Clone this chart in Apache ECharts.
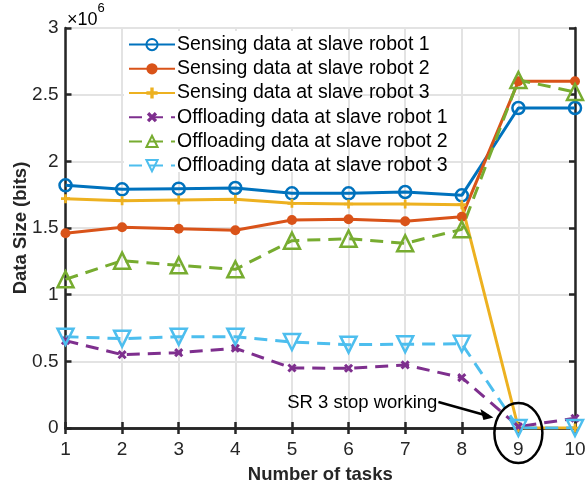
<!DOCTYPE html>
<html><head><meta charset="utf-8">
<script src="https://cdn.jsdelivr.net/npm/echarts@6/dist/echarts.min.js"></script>
<style>html,body{margin:0;padding:0;background:#fff}#c{width:586px;height:489px}</style>
</head><body><div id="c"></div>
<script>
// values in units of 10^6 bits
const tasks = [1,2,3,4,5,6,7,8,9,10];
const sensing1 = [1.82,1.79,1.795,1.80,1.76,1.76,1.77,1.745,2.40,2.40];
const sensing2 = [1.46,1.505,1.495,1.483,1.56,1.565,1.55,1.585,2.60,2.60];
const sensing3 = [1.72,1.705,1.71,1.715,1.685,1.68,1.68,1.675,0,0];
const offload1 = [0.655,0.55,0.565,0.598,0.45,0.448,0.473,0.378,0.01,0.073];
const offload2 = [1.115,1.255,1.22,1.19,1.405,1.42,1.385,1.49,2.61,2.52];
const offload3 = [0.685,0.67,0.685,0.685,0.645,0.625,0.628,0.632,0,0];
const seriesNames = ['Sensing data at slave robot 1','Sensing data at slave robot 2','Sensing data at slave robot 3',
  'Offloading data at slave robot 1','Offloading data at slave robot 2','Offloading data at slave robot 3'];
const yTicks = [0,0.5,1,1.5,2,2.5,3];
const xLabel = 'Number of tasks';
const yLabel = 'Data Size (bits)';
const annotationText = 'SR 3 stop working';

const FONT = 'Liberation Sans, Arial, sans-serif';
const AX = '#262626';
const GRID = '#e3e3e3';
const plus = 'path://M3.5,0 H6.5 V3.5 H10 V6.5 H6.5 V10 H3.5 V6.5 H0 V3.5 H3.5 Z';

function pts(arr){ return tasks.map((t,i)=>[t,arr[i]]); }
function mk(name, data, color, dash, symbol, size, filled, rotate){
  return {
    name, type:'line', data:pts(data), symbol, symbolSize:size, symbolRotate:rotate||0,
    lineStyle:{color, width:3, type:dash?[13,8]:'solid'},
    itemStyle: filled ? {color} : {color:'rgba(255,255,255,0)', borderColor:color, borderWidth:2.5},
    emphasis:{disabled:true}, animation:false, z:3
  };
}
const series = [
  mk(seriesNames[0], sensing1, '#0072BD', false, 'circle', 12, false),
  mk(seriesNames[1], sensing2, '#D95319', false, 'circle', 10, true),
  mk(seriesNames[2], sensing3, '#EDB120', false, plus, 9, true),
  mk(seriesNames[3], offload1, '#7E2F8E', true, plus, 10, true, 45),
  mk(seriesNames[4], offload2, '#77AC30', true, 'triangle', 16, false),
  mk(seriesNames[5], offload3, '#4DBEEE', true, 'triangle', 16, false, 180)
];

const chart = echarts.init(document.getElementById('c'), null, {renderer:'canvas'});
const axBase = {
  type:'value', min:1, max:10, interval:1,
  axisLine:{show:true, lineStyle:{color:AX, width:2.5}},
  axisTick:{show:true, inside:true, length:6, lineStyle:{color:AX, width:2.5}},
};
chart.setOption({
  animation:false,
  grid:{left:65.5, right:11, top:28, bottom:61, containLabel:false, outerBoundsMode:'none'},
  xAxis:[
    Object.assign({}, axBase, {position:'bottom', name:xLabel, nameLocation:'middle', nameGap:37, nameMoveOverlap:false,
      nameTextStyle:{fontFamily:FONT, fontWeight:'bold', fontSize:18.5, color:AX},
      axisLabel:{fontFamily:FONT, fontSize:19, color:AX, margin:12},
      splitLine:{show:true, lineStyle:{color:GRID, width:2}}}),
    Object.assign({}, axBase, {position:'top', axisLabel:{show:false}, splitLine:{show:false}})
  ],
  yAxis:[
    {type:'value', min:0, max:3, interval:0.5, position:'left',
      name:yLabel, nameLocation:'middle', nameGap:35, nameMoveOverlap:false,
      nameTextStyle:{fontFamily:FONT, fontWeight:'bold', fontSize:18.5, color:AX},
      axisLine:{show:true, lineStyle:{color:AX, width:2.5}},
      axisTick:{show:true, inside:true, length:6, lineStyle:{color:AX, width:2.5}},
      axisLabel:{fontFamily:FONT, fontSize:19, color:AX, margin:7,
        formatter:v=>{const t=yTicks.find(x=>Math.abs(x-v)<1e-9); return t===undefined?'':String(t);}},
      splitLine:{show:true, lineStyle:{color:GRID, width:2}}},
    {type:'value', min:0, max:3, interval:0.5, position:'right',
      axisLine:{show:true, lineStyle:{color:AX, width:2.5}},
      axisTick:{show:true, inside:true, length:6, lineStyle:{color:AX, width:2.5}},
      axisLabel:{show:false}, splitLine:{show:false}}
  ],
  legend:{
    orient:'vertical', left:123, top:27.5, itemGap:0, itemWidth:46, itemHeight:14,
    textStyle:{fontFamily:FONT, fontSize:19.5, lineHeight:24.2, color:'#000', padding:[0,0,0,-3]},
    data:seriesNames, selectedMode:false
  },
  series
});

const p9 = chart.convertToPixel({xAxisIndex:0, yAxisIndex:0}, [9,0]);
chart.setOption({
  graphic:[
    {type:'rect', shape:{x:124, y:31, width:216, height:141}, style:{fill:'#fff'}, z:1, silent:true},
    {type:'text', left:67, top:2, z:10, style:{
      text:'{a|×10}{b|6}', rich:{a:{fontFamily:FONT, fontSize:18, color:AX, padding:[9,0,0,0]}, b:{fontFamily:FONT, fontSize:13, color:AX, verticalAlign:'top'}}}},
    {type:'text', z:10, style:{text:annotationText, x:p9[0]-81, y:p9[1]-25, align:'right', verticalAlign:'middle',
      font:'18.5px '+FONT, fill:'#000'}},
    {type:'line', z:10, shape:{x1:p9[0]-80, y1:p9[1]-26, x2:p9[0]-30, y2:p9[1]-12}, style:{stroke:'#000', lineWidth:2.5}},
    {type:'polygon', z:10, shape:{points:[[p9[0]-25,p9[1]-10.5],[p9[0]-38,p9[1]-19],[p9[0]-35,p9[1]-8]]}, style:{fill:'#000'}},
    {type:'ellipse', z:10, shape:{cx:p9[0], cy:p9[1]+5, rx:24, ry:30}, style:{fill:'none', stroke:'#000', lineWidth:2.5}}
  ]
});
</script></body></html>
